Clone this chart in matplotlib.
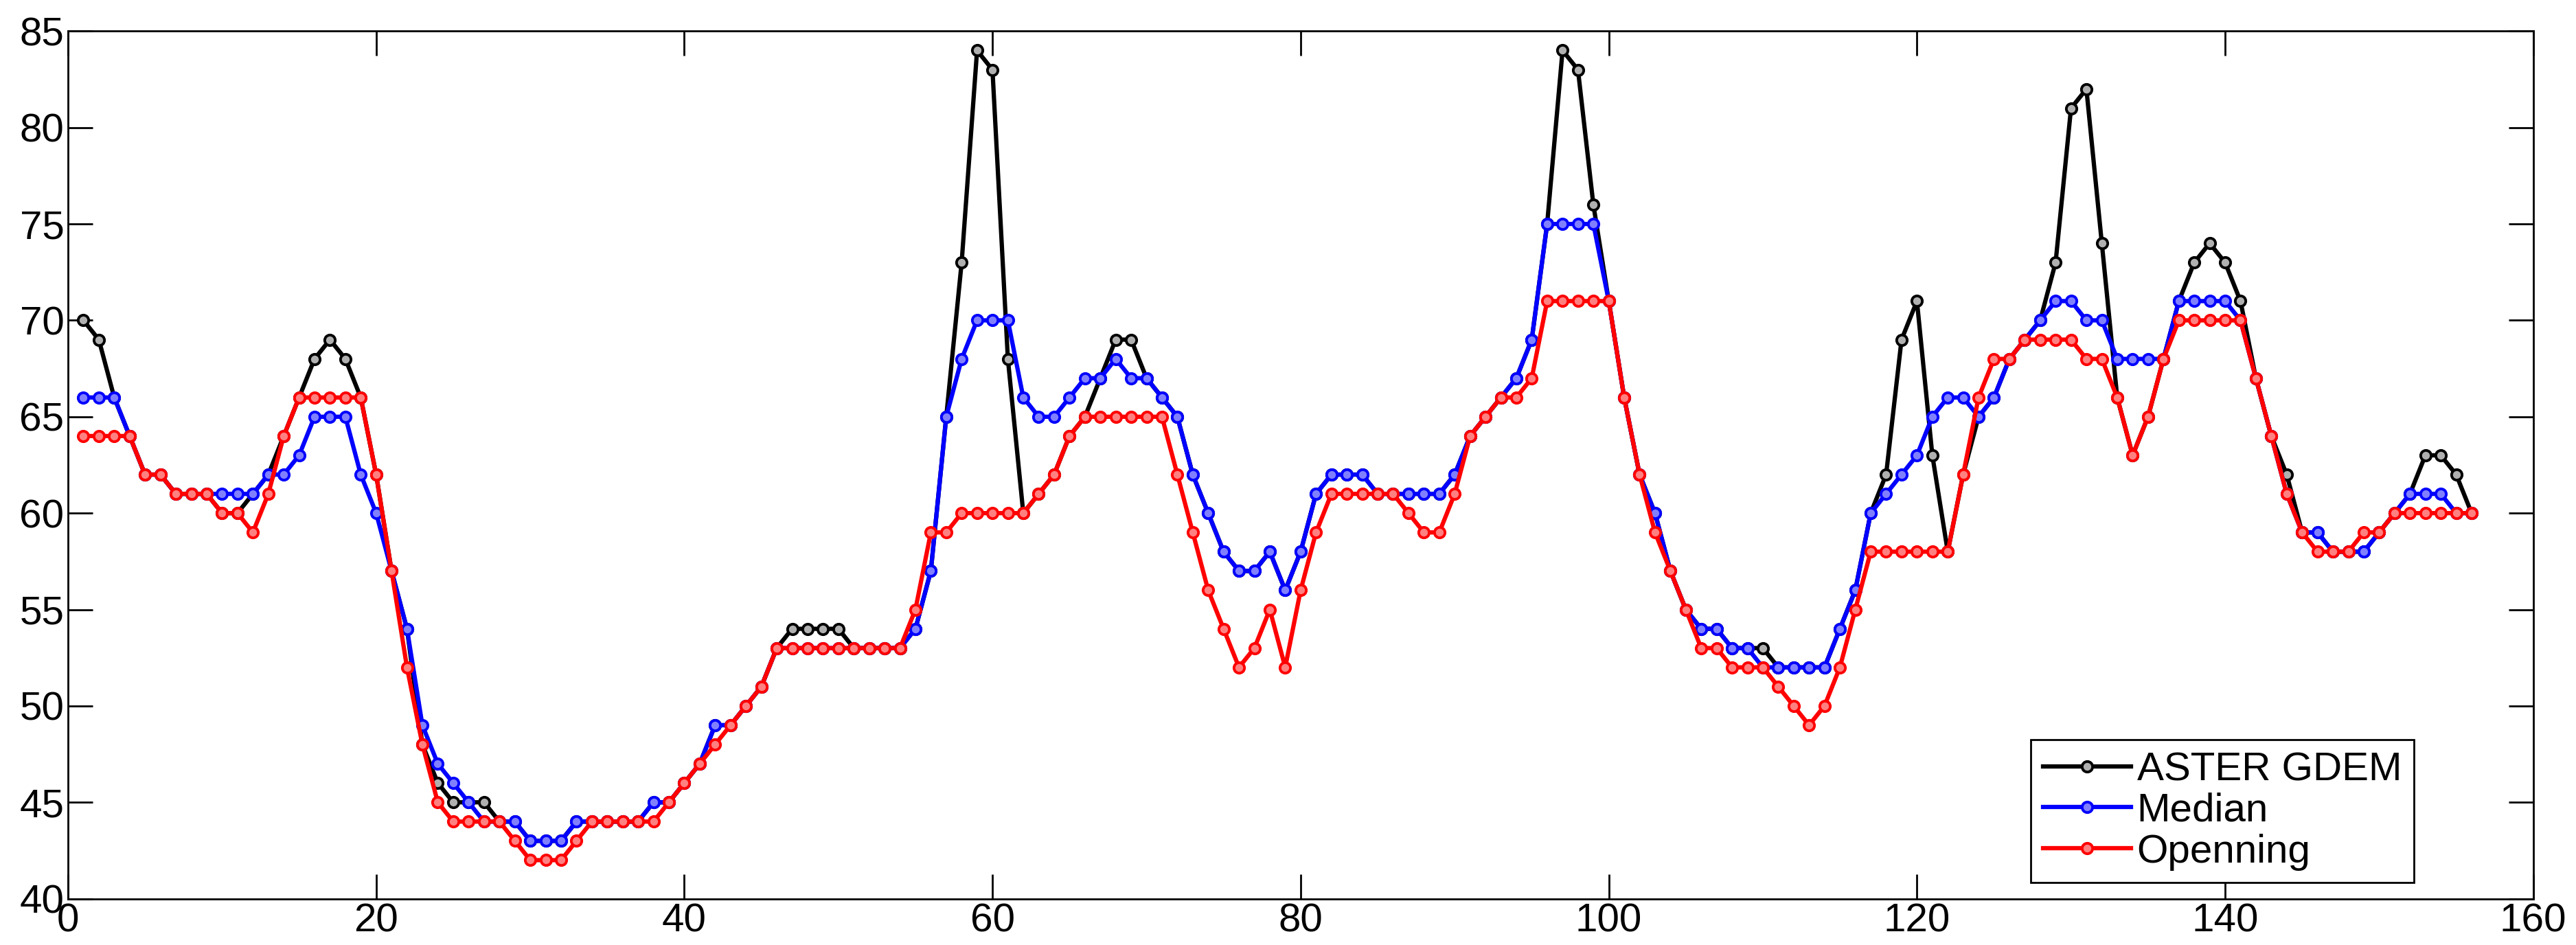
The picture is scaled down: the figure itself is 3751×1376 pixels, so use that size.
import matplotlib
matplotlib.use("Agg")
import matplotlib.pyplot as plt
import numpy as np

plt.rcParams['font.family'] = ['Liberation Sans', 'DejaVu Sans']

x = list(range(1, 157))
aster = [70,69,66,64,62,62,61,61,61,60,
         60,61,62,64,66,68,69,68,66,62,
         57,54,48,46,45,45,45,44,44,43,
         43,43,44,44,44,44,44,45,45,46,
         47,49,49,50,51,53,54,54,54,54,
         53,53,53,53,54,57,65,73,84,83,
         68,60,61,62,64,65,67,69,69,67,
         66,65,62,60,58,57,57,58,56,58,
         61,62,62,62,61,61,61,61,61,62,
         64,65,66,67,69,75,84,83,76,71,
         66,62,60,57,55,54,54,53,53,53,
         52,52,52,52,54,56,60,62,69,71,
         63,58,62,65,66,68,69,70,73,81,
         82,74,66,63,65,68,71,73,74,73,
         71,67,64,62,59,59,58,58,58,59,
         60,61,63,63,62,60]
median = [66,66,66,64,62,62,61,61,61,61,
          61,61,62,62,63,65,65,65,62,60,
          57,54,49,47,46,45,44,44,44,43,
          43,43,44,44,44,44,44,45,45,46,
          47,49,49,50,51,53,53,53,53,53,
          53,53,53,53,54,57,65,68,70,70,
          70,66,65,65,66,67,67,68,67,67,
          66,65,62,60,58,57,57,58,56,58,
          61,62,62,62,61,61,61,61,61,62,
          64,65,66,67,69,75,75,75,75,71,
          66,62,60,57,55,54,54,53,53,52,
          52,52,52,52,54,56,60,61,62,63,
          65,66,66,65,66,68,69,70,71,71,
          70,70,68,68,68,68,71,71,71,71,
          70,67,64,61,59,59,58,58,58,59,
          60,61,61,61,60,60]
opening = [64,64,64,64,62,62,61,61,61,60,
           60,59,61,64,66,66,66,66,66,62,
           57,52,48,45,44,44,44,44,43,42,
           42,42,43,44,44,44,44,44,45,46,
           47,48,49,50,51,53,53,53,53,53,
           53,53,53,53,55,59,59,60,60,60,
           60,60,61,62,64,65,65,65,65,65,
           65,62,59,56,54,52,53,55,52,56,
           59,61,61,61,61,61,60,59,59,61,
           64,65,66,66,67,71,71,71,71,71,
           66,62,59,57,55,53,53,52,52,52,
           51,50,49,50,52,55,58,58,58,58,
           58,58,62,66,68,68,69,69,69,69,
           68,68,66,63,65,68,70,70,70,70,
           70,67,64,61,59,58,58,58,59,59,
           60,60,60,60,60,60]
labels = ["ASTER GDEM", "Median", "Openning"]

fig = plt.figure(figsize=(37.51, 13.76), dpi=100)
ax = fig.add_axes([0.0264, 0.049, 0.957, 0.918])
styles = [("black", "#b0b0b0"), ("#0000ff", "#8080ff"), ("#ff0000", "#ff8080")]
for y, lab, (c, fc) in zip([aster, median, opening], labels, styles):
    ax.plot(x, y, color=c, lw=4.5, marker="o", ms=11, mfc=fc, mec=c, mew=2.8, label=lab)

ax.set_xlim(0, 160)
ax.set_ylim(40, 85)
ax.set_xticks(range(0, 161, 20))
ax.set_yticks(range(40, 86, 5))
ax.tick_params(direction="in", length=26, width=2, labelsize=42, top=True, right=True, pad=4)
for s in ax.spines.values():
    s.set_linewidth(2)
leg = ax.legend(loc="lower right", fontsize=42, fancybox=False, edgecolor="black",
                framealpha=1, handlelength=2.2, borderaxespad=0.4, labelspacing=0.1,
                handletextpad=0.15, borderpad=0.3, bbox_to_anchor=(0.958, 0.0))
leg.get_frame().set_linewidth(2)
fig.savefig("out.png", dpi=100)
